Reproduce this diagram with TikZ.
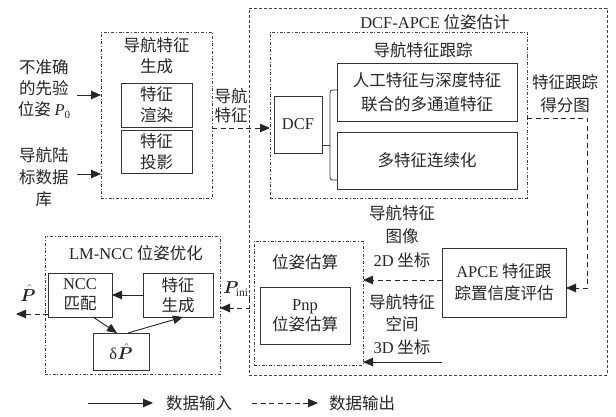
\documentclass[tikz,border=0pt]{standalone}
\usepackage{fontspec}
\usepackage{bm}
\setmainfont{Liberation Serif}
\newfontfamily\cjk{Noto Sans CJK SC}
\newfontfamily\latfont{Liberation Serif}
\newcommand\rmlat[1]{{\latfont #1}}
\usetikzlibrary{arrows.meta}
\begin{document}
\begin{tikzpicture}[x=1pt,y=-1pt,
  every node/.style={inner sep=0pt,outer sep=0pt,font=\cjk\fontsize{16.5}{22}\selectfont,text=black!85},
  lbl/.style={align=center},
  dashdotbox/.style={draw=black!75,line width=0.8pt,dash pattern=on 3pt off 1.8pt on 0.9pt off 1.8pt},
  dashbox/.style={draw=black!75,line width=0.8pt,dash pattern=on 3pt off 2pt},
  arr/.style={line width=0.9pt,draw=black!85,-{Triangle[length=10pt,width=8.5pt]}},
  darr/.style={arr,dash pattern=on 5pt off 3.5pt},
  conn/.style={line width=0.8pt,draw=black!80},
]
\useasboundingbox (0,0) rectangle (616,417);
\fill[white] (0,0) rectangle (616,417);

% ---------- feature generation ----------
\node[dashdotbox,minimum width=111pt,minimum height=166pt] (gen) at (156.5,115) {};
\node[lbl,font=\cjk\fontsize{16.5}{21}\selectfont] (gent) at (156.5,56) {导航特征\\生成};
\node[draw=black!80,line width=0.9pt,minimum width=71pt,minimum height=44pt,lbl,font=\cjk\fontsize{16.5}{21}\selectfont] (rend) at (156.5,105) {特征\\渲染};
\node[draw=black!80,line width=0.9pt,minimum width=71pt,minimum height=43pt,lbl,font=\cjk\fontsize{16.5}{21}\selectfont] (proj) at (156.5,151.5) {特征\\投影};

\node[lbl,font=\cjk\fontsize{16.5}{21}\selectfont] (in1) at (44,89) {不准确\\的先验\\位姿 {\latfont\itshape P}{\latfont\raisebox{-3pt}{\fontsize{11}{11}\selectfont 0}}};
\node[lbl,font=\cjk\fontsize{16.5}{22}\selectfont] (in2) at (44,177) {导航陆\\标数据\\库};
\coordinate (y95) at (0,95);
\coordinate (y174) at (0,174);
\draw[arr] (77,95) -- (gen.west |- y95);
\draw[arr] (77,174) -- (gen.west |- y174);

\node[lbl,font=\cjk\fontsize{16.5}{19}\selectfont] (navf) at (231,106) {导航\\特征};

% ---------- DCF-APCE ----------
\node[dashbox,minimum width=358pt,minimum height=367pt] (outer) at (428,191.5) {};
\node (outt) at (435,22) {\rmlat{DCF-APCE} 位姿估计};
\node[dashdotbox,minimum width=257pt,minimum height=166pt] (trk) at (398.5,115) {};
\node (trkt) at (423,50) {导航特征跟踪};
\node[draw=black!80,line width=0.9pt,minimum width=48pt,minimum height=57pt] (dcf) at (298,124.5) {\rmlat{DCF}};
\node[draw=black!80,line width=0.9pt,minimum width=180pt,minimum height=58pt,lbl,font=\cjk\fontsize{16.5}{24}\selectfont] (mc) at (427,92) {人工特征与深度特征\\联合的多通道特征};
\node[draw=black!80,line width=0.9pt,minimum width=180pt,minimum height=57pt] (cont) at (427,160.5) {多特征连续化};

\coordinate (y128) at (0,128);
\draw[darr] (gen.east |- y128) -- (trk.west |- y128);

% bracket
\coordinate (y145) at (0,145);
\draw[conn] (dcf.east |- y145) -- (330,145);
\draw[conn,rounded corners=2.5pt] (mc.west |- 0,90) -- (330,90) -- (330,180) -- (cont.west |- 0,180);

\node[lbl,font=\cjk\fontsize{16.5}{23}\selectfont] (score) at (565,93.5) {特征跟踪\\得分图};

\node[draw=black!80,line width=0.9pt,minimum width=124pt,minimum height=69pt,lbl,font=\cjk\fontsize{16.5}{22}\selectfont] (apce) at (504,282.5) {\rmlat{APCE} 特征跟\\踪置信度评估};
\coordinate (y118) at (0,118);
\coordinate (y288) at (0,288);
\draw[darr] (trk.east |- y118) -- (587,118) -- (587,288) -- (apce.east |- y288);

\node[lbl,font=\cjk\fontsize{16.5}{23.5}\selectfont] (l2d) at (402,236.5) {导航特征\\图像\\\rmlat{2D} 坐标};
\node[lbl,font=\cjk\fontsize{16.5}{22.5}\selectfont] (l3d) at (402,324.5) {导航特征\\空间\\\rmlat{3D} 坐标};

\node[dashdotbox,minimum width=109pt,minimum height=124pt] (est) at (308.5,303) {};
\node (estt) at (305,262) {位姿估算};
\node[draw=black!80,line width=0.9pt,minimum width=90pt,minimum height=57pt,lbl,font=\cjk\fontsize{16.5}{20}\selectfont] (pnp) at (305,315.5) {\rmlat{Pnp}\\位姿估算};

\coordinate (y280) at (0,280);
\coordinate (y362) at (0,362);
\draw[darr] (apce.west |- y280) -- (est.east |- y280);
\draw[arr] (apce.west |- y362) -- (est.east |- y362);

% ---------- LM-NCC ----------
\node[dashdotbox,minimum width=175pt,minimum height=138pt] (lm) at (132.5,305) {};
\node (lmt) at (136,253) {\rmlat{LM-NCC} 位姿优化};
\node[draw=black!80,line width=0.9pt,minimum width=64pt,minimum height=44pt,lbl,font=\cjk\fontsize{16.5}{20}\selectfont] (ncc) at (80,295) {\rmlat{NCC}\\匹配};
\node[draw=black!80,line width=0.9pt,minimum width=70pt,minimum height=44pt,lbl,font=\cjk\fontsize{16.5}{20}\selectfont] (fg) at (178,295) {特征\\生成};
\node[draw=black!80,line width=0.9pt,minimum width=56pt,minimum height=37pt] (dp) at (121,351.5) {{\latfont δ}$\hat{\bm{P}}$};

\draw[arr] (fg.west) -- (ncc.east);
\draw[arr] ([xshift=13pt]ncc.south) -- ([xshift=-4pt]dp.north);
\draw[arr] ([xshift=7pt]dp.north) -- ([xshift=5pt]fg.south);

\coordinate (y314) at (0,314);
\coordinate (phatend) at (16,314);
\draw[darr] (ncc.west |- y314) -- (phatend);
\node (phat) at (28,293) {$\hat{\bm{P}}$};

\coordinate (pinistart) at (249,298);
\coordinate (y308) at (0,308);
\draw[darr] (pinistart) -- (249,308) -- (lm.east |- y308);
\node (pini) at (236,289) {$\bm{P}_{\mathrm{ini}}$};

% ---------- legend ----------
\coordinate (la1) at (88,403);
\coordinate (la2) at (153,403);
\coordinate (lb1) at (252,403);
\coordinate (lb2) at (318,403);
\draw[arr] (la1) -- (la2);
\node (lin) at (199,403) {数据输入};
\draw[darr] (lb1) -- (lb2);
\node (lout) at (362,403) {数据输出};
\end{tikzpicture}
\end{document}
